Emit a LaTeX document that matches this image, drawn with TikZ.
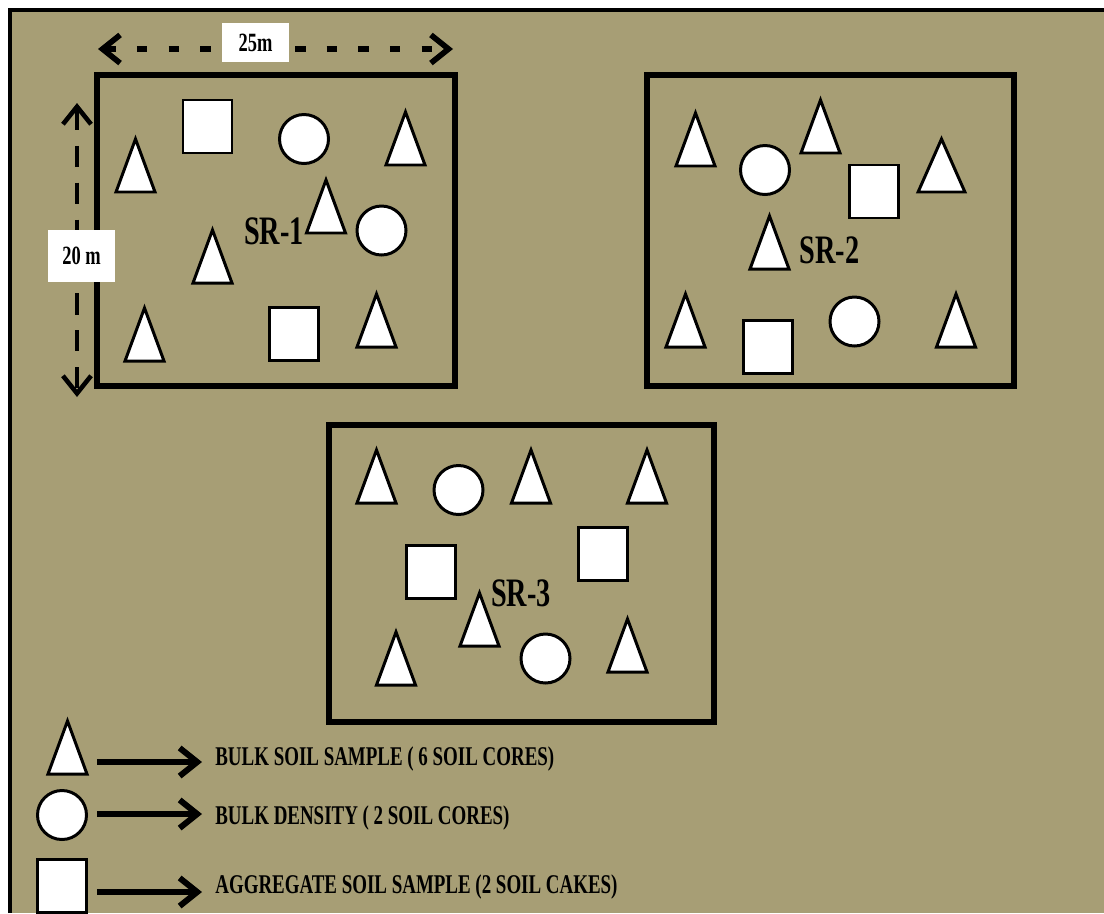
\documentclass[tikz,border=0pt]{standalone}
\usepackage{fontspec}
\setmainfont{Liberation Serif}[FakeStretch=0.70]
\usetikzlibrary{arrows.meta}
\definecolor{soil}{RGB}{167,158,117}

\tikzset{
  chev/.tip={Straight Barb[length=10pt,width=16pt]},
  plotbox/.style={line width=3.4pt},
  shp/.style={draw=black, fill=white, line width=1.7pt},
  dimline/.style={line width=3.2pt, dash pattern=on 6pt off 12pt, chev-chev},
  dimlinev/.style={line width=2.6pt, dash pattern=on 12pt off 9pt, chev-chev},
  legarrow/.style={line width=3.4pt, -chev},
  dimlabel/.style={fill=white, inner sep=0pt, font=\bfseries\fontsize{15}{17}\selectfont},
  srlabel/.style={inner sep=0pt, font=\bfseries\fontsize{23}{25}\selectfont},
  legtext/.style={inner sep=0pt, anchor=base west, font=\bfseries\fontsize{15.4}{17}\selectfont},
  pics/tri/.style={code={\draw[shp] (-19.5,0) -- (0,-53) -- (19.5,0) -- cycle;}},
  pics/sq/.style={code={\draw[shp] (-24.5,-26.5) rectangle (24.5,26.5);}},
  pics/dot/.style={code={\draw[shp] (0,0) circle[radius=24.5];}}
}

\begin{document}
\begin{tikzpicture}[x=0.02cm, y=-0.02cm]
    \useasboundingbox (0,0) rectangle (1104,913);
    % field background
    \fill[soil] (10,10) rectangle (1104,913);
    \draw[line width=2.3pt] (10,913) -- (10,10) -- (1104,10);
    % sampling rectangles
    \draw[plotbox] (97,75) rectangle (455,386);
    \draw[plotbox] (647,75) rectangle (1014,386);
    \draw[plotbox] (329,425) rectangle (714,722);
    % dimensions of SR-1
    \coordinate (hl) at (98,49); \coordinate (hr) at (453,49);
    \coordinate (vt) at (77,103); \coordinate (vb) at (77,397);
    \draw[dimline] (hl) -- (hr);
    \draw[dimlinev] (vt) -- (vb);
    \node[dimlabel, minimum width=13.4mm, minimum height=7.8mm] (wlab) at (255.5,42.5) {25m};
    \node[dimlabel, minimum width=13.4mm, minimum height=10.4mm] (hlab) at (81.5,256) {20 m};
    % SR-1
    \pic at (135.5,192) {tri}; \pic at (405.5,165) {tri}; \pic at (326,233) {tri};
    \pic at (212.5,283) {tri}; \pic at (144.5,361) {tri}; \pic at (376.5,347) {tri};
    \pic at (207.5,126.5) {sq}; \pic at (294,334) {sq};
    \pic at (304,139) {dot}; \pic at (381.5,230.5) {dot};
    \node[srlabel] (sr1) at (274,231) {SR-1};
    % SR-2
    \pic at (695.5,166) {tri}; \pic at (820.5,153) {tri}; \pic[xscale=1.2] at (941.5,192) {tri};
    \pic at (769.5,269) {tri}; \pic at (685.5,347) {tri}; \pic at (956,347) {tri};
    \pic at (873.5,191.5) {sq}; \pic at (767.5,347) {sq};
    \pic at (765,170) {dot}; \pic at (854.5,321.5) {dot};
    \node[srlabel] (sr2) at (829.5,250.5) {SR-2};
    % SR-3
    \pic at (376.5,503) {tri}; \pic at (531,503) {tri}; \pic at (647,503) {tri};
    \pic at (479.5,646) {tri}; \pic at (396,685) {tri}; \pic at (627.5,672) {tri};
    \pic at (430.5,571.5) {sq}; \pic at (603,554) {sq};
    \pic at (458.5,490) {dot}; \pic at (545.5,658.5) {dot};
    \node[srlabel] (sr3) at (521,593.5) {SR-3};
    % legend
    \pic at (67.5,774) {tri}; \pic at (62,815) {dot}; \pic at (62,886) {sq};
    \coordinate (la1) at (97,762); \coordinate (la2) at (97,814); \coordinate (la3) at (97,892);
    \node[legtext] (lt1) at (215,765) {BULK SOIL SAMPLE ( 6 SOIL CORES)};
    \node[legtext] (lt2) at (215,824) {BULK DENSITY ( 2 SOIL CORES)};
    \node[legtext] (lt3) at (215,893) {AGGREGATE SOIL SAMPLE (2 SOIL CAKES)};
    \draw[legarrow, shorten >=2.6mm] (la1) -- (la1 -| lt1.west);
    \draw[legarrow, shorten >=2.6mm] (la2) -- (la2 -| lt2.west);
    \draw[legarrow, shorten >=2.6mm] (la3) -- (la3 -| lt3.west);
\end{tikzpicture}
\end{document}
